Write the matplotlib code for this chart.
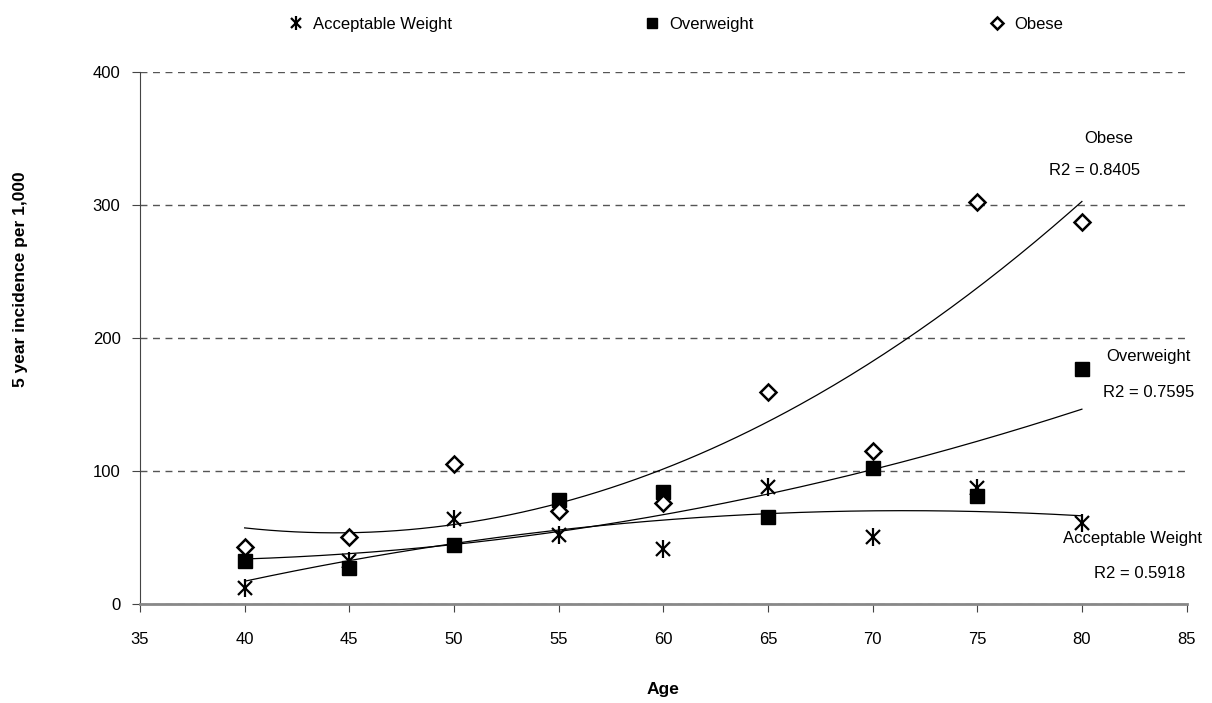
import matplotlib.pyplot as plt
import numpy as np
from matplotlib.legend_handler import HandlerTuple

plt.rcParams['font.family'] = ['Liberation Sans Narrow', 'Liberation Sans', 'DejaVu Sans']

# data
age = np.array([40, 45, 50, 55, 60, 65, 70, 75, 80])
acceptable = np.array([12, 32, 64, 52, 41, 88, 50, 87, 61])
overweight = np.array([32, 27, 44, 78, 84, 65, 102, 81, 177])
obese = np.array([43, 50, 105, 70, 76, 159, 115, 302, 287])

series_names = ['Acceptable Weight', 'Overweight', 'Obese']
r2_labels = ['R2 = 0.5918', 'R2 = 0.7595', 'R2 = 0.8405']

fig = plt.figure(figsize=(12.12, 7.03), dpi=100)
ax = fig.add_axes([0.1155, 0.141, 0.8635, 0.7566])

# polynomial trendlines (order 2) over the data range
xs = np.linspace(40, 80, 200)
for ys in (acceptable, overweight, obese):
    coef = np.polyfit(age, ys, 2)
    ax.plot(xs, np.polyval(coef, xs), color='black', lw=0.9, zorder=2)

h1 = ax.plot(age, acceptable, linestyle='none', marker='x', ms=10, mew=1.6, color='black', zorder=3)[0]
h1b = ax.plot(age, acceptable, linestyle='none', marker='|', ms=13, mew=1.6, color='black', zorder=3)[0]
h2 = ax.plot(age, overweight, linestyle='none', marker='s', ms=10, color='black', zorder=3)[0]
h3 = ax.plot(age, obese, linestyle='none', marker='D', ms=8, mfc='white', mec='black', mew=1.8, zorder=3)[0]

ax.set_xlim(35, 85)
ax.set_ylim(0, 400)
ax.set_xticks(np.arange(35, 86, 5))
ax.set_yticks([0, 100, 200, 300, 400])
ax.yaxis.grid(True, linestyle=(0, (5, 4)), color='#555555', lw=1)
ax.set_axisbelow(True)
for s in ('top', 'right'):
    ax.spines[s].set_visible(False)
ax.spines['left'].set_color('#444444')
ax.spines['bottom'].set_color('#888888')
ax.spines['bottom'].set_linewidth(2)
ax.tick_params(axis='both', labelsize=12, length=6, color='#444444')
ax.tick_params(axis='x', pad=14)
ax.tick_params(axis='y', pad=8)

ax.set_xlabel('Age', fontsize=12.5, fontweight='bold')
ax.xaxis.set_label_coords(0.5, -0.146)
ax.set_ylabel('5 year incidence per 1,000', fontsize=12.5, fontweight='bold')
ax.yaxis.set_label_coords(-0.107, 0.61)

# trendline labels
lbl = dict(fontsize=12, ha='center', va='center')
ax.text(81.3, 350, series_names[2], **lbl)
ax.text(80.6, 325.6, r2_labels[2], **lbl)
ax.text(83.2, 185.7, series_names[1], **lbl)
ax.text(83.2, 159, r2_labels[1], **lbl)
ax.text(82.4, 49, series_names[0], **lbl)
ax.text(82.75, 22.6, r2_labels[0], **lbl)

# legend entries spread across the top
handles = [(h1, h1b), h2, h3]
marker_px = [296, 652, 997]
for hnd, name, mx in zip(handles, series_names, marker_px):
    leg = fig.legend([hnd], [name], handler_map={tuple: HandlerTuple(ndivide=1)},
                     loc='center left', bbox_to_anchor=((mx - 8) / 1212, 0.965),
                     frameon=False, fontsize=12, markerscale=0.75, handlelength=1.0,
                     handletextpad=0.5, borderpad=0, borderaxespad=0)

fig.savefig('out.png', dpi=100)
